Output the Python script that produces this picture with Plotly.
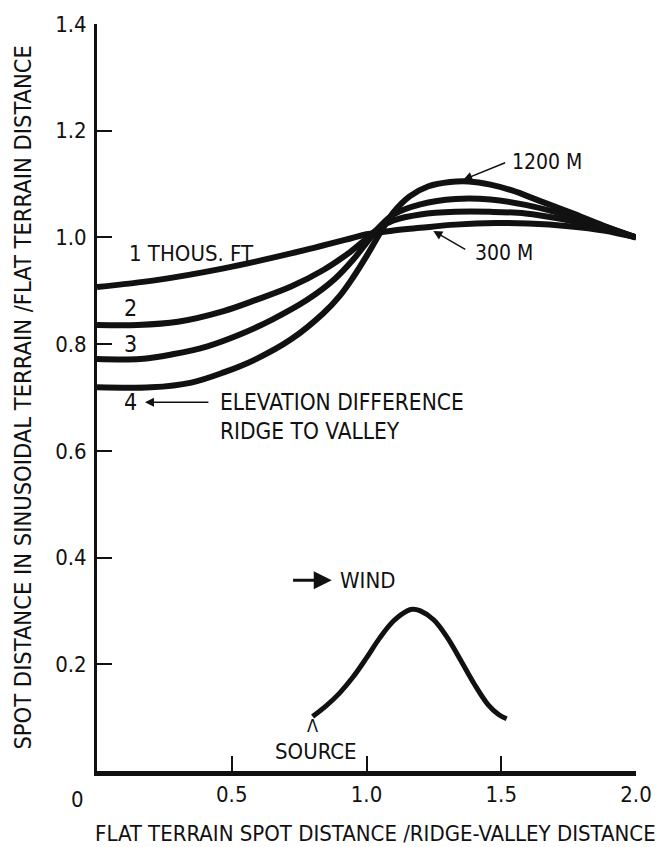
import plotly.graph_objects as go

# ---- data ----
c1_x = [0, 0.22, 0.47, 0.72, 0.94, 1.0, 1.1, 1.2, 1.33, 1.48, 1.6, 1.75, 1.88, 2.0]
c1_y = [0.907, 0.920, 0.942, 0.970, 0.998, 1.006, 1.013, 1.018, 1.024, 1.027, 1.026, 1.021, 1.013, 1.0]

c2_x = [0, 0.15, 0.3, 0.47, 0.59, 0.72, 0.84, 0.94, 1.0, 1.05, 1.1, 1.2, 1.33, 1.46, 1.59, 1.72, 1.86, 2.0]
c2_y = [0.836, 0.836, 0.842, 0.862, 0.883, 0.908, 0.939, 0.973, 0.998, 1.019, 1.032, 1.043, 1.048, 1.048, 1.045, 1.035, 1.02, 1.0]

c3_x = [0, 0.16, 0.28, 0.41, 0.53, 0.65, 0.78, 0.88, 0.95, 1.0, 1.05, 1.1, 1.2, 1.33, 1.46, 1.59, 1.72, 1.86, 2.0]
c3_y = [0.772, 0.772, 0.781, 0.796, 0.818, 0.846, 0.883, 0.921, 0.958, 0.990, 1.021, 1.043, 1.062, 1.072, 1.071, 1.061, 1.045, 1.024, 1.0]

c4_x = [0, 0.2, 0.35, 0.47, 0.59, 0.72, 0.84, 0.90, 0.95, 1.0, 1.05, 1.1, 1.16, 1.23, 1.31, 1.38, 1.46, 1.54, 1.64, 1.76, 1.88, 2.0]
c4_y = [0.719, 0.719, 0.728, 0.747, 0.772, 0.809, 0.858, 0.890, 0.925, 0.965, 1.008, 1.047, 1.077, 1.096, 1.104, 1.105, 1.099, 1.088, 1.069, 1.046, 1.022, 1.0]

hill_x = [0.80, 0.85, 0.90, 0.95, 1.00, 1.05, 1.10, 1.15, 1.17, 1.20, 1.25, 1.30, 1.35, 1.40, 1.45, 1.49, 1.52]
hill_y = [0.102, 0.122, 0.146, 0.176, 0.212, 0.250, 0.281, 0.300, 0.303, 0.300, 0.283, 0.250, 0.207, 0.163, 0.125, 0.106, 0.098]

x_ticks = [0.5, 1.0, 1.5, 2.0]
x_tick_labels = ["0.5", "1.0", "1.5", "2.0"]
y_ticks = [0.2, 0.4, 0.6, 0.8, 1.0, 1.2, 1.4]
y_tick_labels = ["0.2", "0.4", "0.6", "0.8", "1.0", "1.2", "1.4"]

FONT = "Liberation Sans Narrow, DejaVu Sans Condensed, Arial Narrow, sans-serif"
INK = "#111111"

fig = go.Figure()
for xs, ys in [(c1_x, c1_y), (c2_x, c2_y), (c3_x, c3_y), (c4_x, c4_y)]:
    fig.add_trace(go.Scatter(x=xs, y=ys, mode="lines",
                             line=dict(color=INK, width=6, shape="spline", smoothing=1.0),
                             showlegend=False, hoverinfo="skip"))
fig.add_trace(go.Scatter(x=hill_x, y=hill_y, mode="lines",
                         line=dict(color=INK, width=5, shape="spline", smoothing=1.0),
                         showlegend=False, hoverinfo="skip"))

def txt(x, y, s, anchor="left", size=23):
    return dict(x=x, y=y, xref="x", yref="y", text=s, showarrow=False,
                xanchor=anchor, yanchor="middle", font=dict(family=FONT, size=size, color=INK))

def arrow(x, y, ax, ay, w=1.5, head=2):
    return dict(x=x, y=y, ax=ax, ay=ay, xref="x", yref="y", axref="x", ayref="y",
                text="", showarrow=True, arrowhead=head, arrowsize=1.2, arrowwidth=w,
                arrowcolor=INK)

annotations = [
    txt(0.111, 0.970, "1 THOUS. FT", size=22),
    txt(0.126, 0.868, "2", "center"),
    txt(0.126, 0.801, "3", "center"),
    txt(0.126, 0.691, "4", "center"),
    arrow(0.178, 0.691, 0.419, 0.691),
    txt(0.449, 0.691, "ELEVATION DIFFERENCE", size=22.5),
    txt(0.449, 0.637, "RIDGE TO VALLEY", size=22.5),
    txt(1.532, 1.1415, "1200 M", size=21),
    arrow(1.359, 1.108, 1.52, 1.141),
    txt(1.395, 0.970, "300 M", size=21),
    arrow(1.248, 1.012, 1.372, 0.976),
    arrow(0.871, 0.3575, 0.722, 0.3575, w=3, head=2),
    txt(0.894, 0.3575, "WIND", size=22),
    txt(0.801, 0.085, "Λ", "center", 18),
    txt(0.811, 0.036, "SOURCE", "center", 22),
    dict(x=0, y=0, xref="x", yref="y", text="0", showarrow=False, xanchor="center",
         yanchor="top", xshift=-20, yshift=-14, font=dict(family=FONT, size=22, color=INK)),
    dict(x=0.516, y=-0.083, xref="paper", yref="paper", text="FLAT TERRAIN SPOT DISTANCE /RIDGE-VALLEY DISTANCE",
         showarrow=False, xanchor="center", yanchor="middle", font=dict(family=FONT, size=22, color=INK)),
    dict(x=-0.139, y=0.5, xref="paper", yref="paper", text="SPOT DISTANCE IN SINUSOIDAL TERRAIN /FLAT TERRAIN DISTANCE",
         showarrow=False, textangle=-90, xanchor="center", yanchor="middle",
         font=dict(family=FONT, size=23.5, color=INK)),
]

fig.update_layout(
    width=664, height=847,
    margin=dict(l=97, r=28, t=19, b=76),
    paper_bgcolor="white", plot_bgcolor="white",
    annotations=annotations,
    font=dict(family=FONT, size=22, color=INK),
    xaxis=dict(range=[0, 2.0], showgrid=False, zeroline=False, showline=True,
               linecolor=INK, linewidth=5, ticks="inside", ticklen=15, tickwidth=2,
               tickcolor=INK, tickvals=x_ticks, ticktext=x_tick_labels,
               ticklabelstandoff=0, tickfont=dict(family=FONT, size=22, color=INK)),
    yaxis=dict(range=[0, 1.4], showgrid=False, zeroline=False, showline=True,
               linecolor=INK, linewidth=3, ticks="inside", ticklen=15, tickwidth=2,
               tickcolor=INK, tickvals=y_ticks, ticktext=y_tick_labels,
               ticklabelstandoff=3, tickfont=dict(family=FONT, size=22, color=INK)),
)

fig.write_html("out.html")
